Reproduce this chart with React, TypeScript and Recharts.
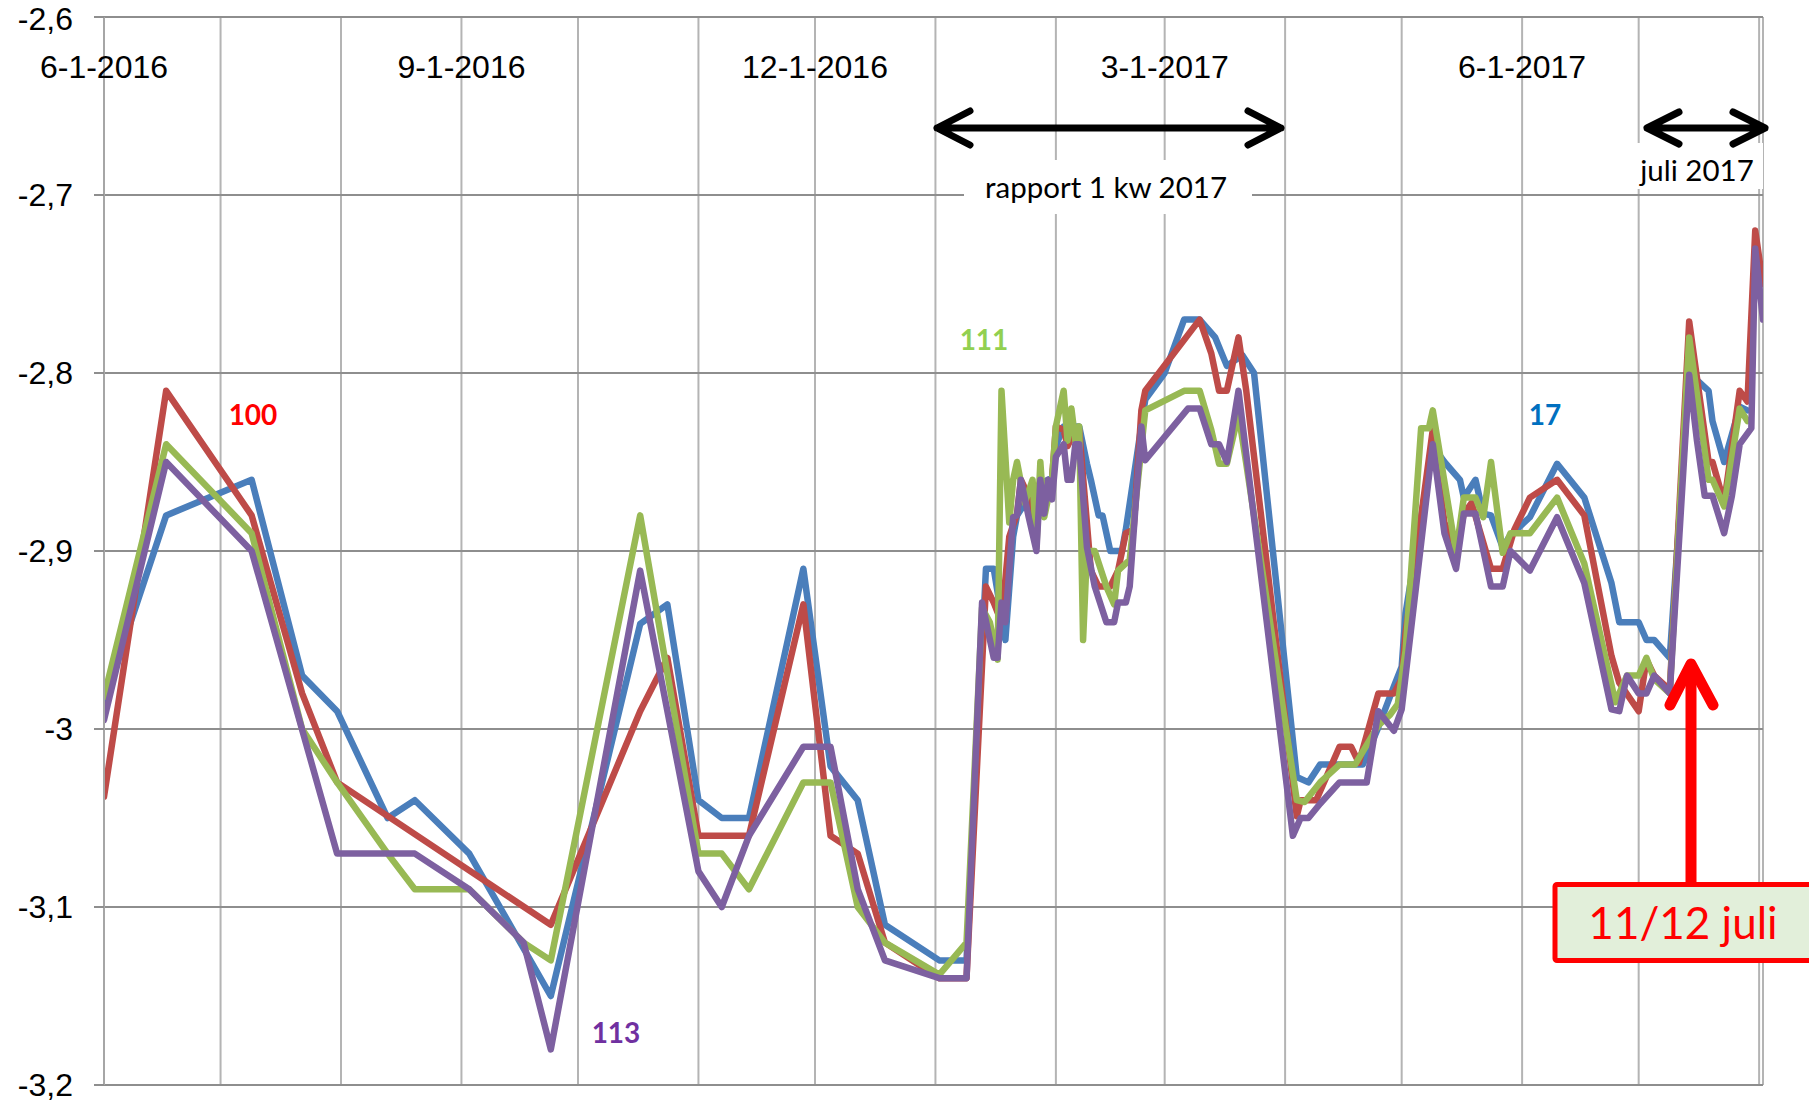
import React from "react";
import { LineChart, Line, XAxis, YAxis, CartesianGrid } from "recharts";

const W = 1809;
const H = 1106;
const PLOT_TOP = 17;

// x values: days counted from 1 June 2016
const monthTicks = [0, 30, 61, 92, 122, 153, 183, 214, 245, 273, 304, 334, 365, 395, 426];
const monthLabels = ["6-1-2016", "", "", "9-1-2016", "", "", "12-1-2016", "", "", "3-1-2017", "", "", "6-1-2017", "", ""];
const yTicks = [-3.2, -3.1, -3, -2.9, -2.8, -2.7, -2.6];

// series 17 (blue)
const blueDays = [0, 16, 38, 51, 60, 73, 80, 94, 115, 138, 145, 153, 159, 166, 180, 187, 194, 201, 215, 222, 227, 229, 232, 234, 235, 238, 241, 244, 245, 247, 251, 253, 254, 256, 257, 259, 262, 263, 268, 273, 278, 282, 286, 289, 293, 296, 307, 310, 313, 317, 324, 328, 332, 334, 335, 342, 345, 349, 350, 353, 355, 357, 360, 362, 367, 374, 381, 388, 390, 395, 397, 399, 403, 408, 413, 414, 417, 421, 423];
const blueValues = [-2.985, -2.88, -2.86, -2.97, -2.99, -3.05, -3.04, -3.07, -3.15, -2.941, -2.93, -3.04, -3.05, -3.05, -2.91, -3.021, -3.04, -3.11, -3.13, -3.13, -2.91, -2.91, -2.95, -2.892, -2.88, -2.87, -2.862, -2.859, -2.841, -2.83, -2.83, -2.851, -2.86, -2.88, -2.88, -2.9, -2.9, -2.888, -2.815, -2.8, -2.77, -2.77, -2.78, -2.796, -2.79, -2.8, -3.027, -3.03, -3.02, -3.02, -3.02, -2.999, -2.976, -2.965, -2.935, -2.841, -2.85, -2.86, -2.87, -2.86, -2.879, -2.88, -2.898, -2.891, -2.881, -2.851, -2.87, -2.918, -2.94, -2.94, -2.95, -2.95, -2.96, -2.8, -2.81, -2.827, -2.85, -2.819, -2.821];

// series 100 (red)
const redDays = [0, 16, 38, 51, 60, 115, 138, 145, 153, 159, 166, 180, 187, 194, 201, 215, 222, 227, 229, 231, 233, 235, 236, 238, 239, 241, 242, 244, 245, 247, 248, 250, 251, 254, 256, 259, 261, 263, 265, 267, 268, 282, 285, 287, 289, 292, 294, 307, 308, 312, 318, 321, 323, 328, 332, 334, 335, 342, 345, 348, 350, 352, 357, 360, 363, 367, 374, 381, 388, 390, 395, 397, 399, 403, 408, 413, 414, 417, 421, 423, 425, 427];
const redValues = [-3.038, -2.81, -2.88, -2.98, -3.03, -3.11, -2.99, -2.96, -3.06, -3.06, -3.06, -2.93, -3.06, -3.07, -3.12, -3.14, -3.14, -2.92, -2.929, -2.94, -2.892, -2.879, -2.86, -2.869, -2.888, -2.86, -2.877, -2.86, -2.83, -2.832, -2.841, -2.832, -2.832, -2.911, -2.92, -2.92, -2.911, -2.89, -2.888, -2.821, -2.81, -2.77, -2.789, -2.81, -2.81, -2.78, -2.81, -3.049, -3.04, -3.04, -3.01, -3.01, -3.019, -2.98, -2.98, -2.972, -2.946, -2.832, -2.884, -2.9, -2.879, -2.873, -2.91, -2.91, -2.888, -2.87, -2.86, -2.88, -2.959, -2.974, -2.99, -2.961, -2.97, -2.978, -2.771, -2.85, -2.85, -2.873, -2.81, -2.816, -2.72, -2.75];

// series 111 (green)
const greenDays = [0, 16, 38, 51, 60, 73, 80, 94, 108, 115, 138, 153, 159, 166, 180, 187, 194, 201, 215, 222, 226, 228, 230, 231, 233, 234, 235, 237, 239, 240, 241, 242, 244, 245, 247, 248, 249, 250, 251, 252, 253, 255, 258, 260, 261, 264, 268, 278, 282, 285, 287, 289, 292, 294, 307, 309, 313, 318, 322, 328, 331, 333, 335, 339, 341, 342, 348, 350, 353, 355, 357, 360, 362, 367, 374, 381, 389, 392, 395, 397, 399, 403, 408, 413, 414, 417, 421, 423];
const greenValues = [-2.982, -2.84, -2.89, -3.0, -3.03, -3.07, -3.09, -3.09, -3.12, -3.13, -2.88, -3.07, -3.07, -3.09, -3.03, -3.03, -3.1, -3.12, -3.138, -3.12, -2.932, -2.94, -2.961, -2.81, -2.884, -2.86, -2.85, -2.873, -2.86, -2.898, -2.85, -2.881, -2.86, -2.83, -2.81, -2.838, -2.82, -2.838, -2.83, -2.95, -2.9, -2.9, -2.92, -2.93, -2.911, -2.905, -2.821, -2.81, -2.81, -2.832, -2.851, -2.851, -2.823, -2.851, -3.04, -3.041, -3.03, -3.02, -3.02, -2.998, -2.992, -2.986, -2.956, -2.831, -2.831, -2.821, -2.901, -2.87, -2.87, -2.881, -2.85, -2.901, -2.89, -2.89, -2.87, -2.907, -2.985, -2.97, -2.97, -2.96, -2.972, -2.98, -2.78, -2.86, -2.86, -2.875, -2.82, -2.827];

// series 113 (purple)
const purpleDays = [0, 16, 38, 60, 80, 94, 108, 115, 138, 153, 159, 166, 180, 187, 194, 201, 215, 222, 226, 229, 230, 231, 232, 234, 235, 236, 238, 240, 241, 242, 243, 244, 245, 247, 248, 249, 250, 251, 253, 255, 258, 260, 261, 263, 264, 267, 268, 279, 282, 285, 287, 289, 292, 306, 308, 310, 313, 318, 325, 328, 332, 334, 342, 345, 348, 350, 353, 357, 360, 362, 367, 374, 381, 388, 390, 392, 395, 397, 399, 403, 408, 410, 412, 414, 417, 419, 421, 424, 425, 427];
const purpleValues = [-2.995, -2.85, -2.9, -3.07, -3.07, -3.09, -3.12, -3.18, -2.911, -3.08, -3.1, -3.06, -3.01, -3.01, -3.09, -3.13, -3.14, -3.14, -2.929, -2.96, -2.96, -2.929, -2.94, -2.881, -2.88, -2.86, -2.881, -2.9, -2.86, -2.879, -2.86, -2.871, -2.847, -2.84, -2.86, -2.86, -2.84, -2.84, -2.898, -2.92, -2.94, -2.94, -2.929, -2.929, -2.92, -2.83, -2.849, -2.82, -2.82, -2.84, -2.84, -2.85, -2.81, -3.06, -3.05, -3.05, -3.042, -3.03, -3.03, -2.99, -3.001, -2.989, -2.84, -2.89, -2.91, -2.879, -2.879, -2.92, -2.92, -2.9, -2.911, -2.881, -2.918, -2.989, -2.99, -2.97, -2.98, -2.98, -2.97, -2.98, -2.801, -2.838, -2.869, -2.869, -2.89, -2.869, -2.84, -2.831, -2.73, -2.77];

const series = [
  { name: "17", color: "#4A7EBB", days: blueDays, values: blueValues },
  { name: "100", color: "#BE4B48", days: redDays, values: redValues },
  { name: "111", color: "#98B954", days: greenDays, values: greenValues },
  { name: "113", color: "#7D60A0", days: purpleDays, values: purpleValues },
];

const AXIS_FONT = "'Liberation Sans', Arial, sans-serif";
const NOTE_FONT = "Lato, 'Noto Sans', sans-serif";

// month labels sit just under the top edge of the plot, one every quarter
function renderTopTick(props: any) {
  const { x, payload } = props;
  const i = monthTicks.indexOf(payload.value);
  const label = monthLabels[i];
  return (
    <text key={`t-${payload.value}`} x={x} y={PLOT_TOP + 61} textAnchor="middle" fontSize={32} fontFamily={AXIS_FONT} fill="#000">
      {label || ""}
    </text>
  );
}

const fmtY = (v: number) => String(v).replace(".", ",");

export default function App() {
  return (
    <div style={{ position: "absolute", left: 0, top: 0, width: W, height: H, background: "#fff" }}>
      <LineChart width={W} height={H} margin={{ top: PLOT_TOP - 1, right: 46, bottom: 21, left: 0 }}>
        <CartesianGrid horizontal={false} stroke="#B4B4B4" strokeWidth={2} />
        <CartesianGrid vertical={false} stroke="#8E8E8E" strokeWidth={2} />
        <XAxis
          type="number"
          dataKey="d"
          orientation="top"
          domain={[0, 427]}
          ticks={monthTicks}
          interval={0}
          allowDataOverflow
          height={1}
          axisLine={false}
          tickLine={false}
          tick={renderTopTick}
        />
        <YAxis
          type="number"
          domain={[-3.2, -2.6]}
          ticks={yTicks}
          allowDataOverflow
          width={104}
          tickFormatter={fmtY}
          tickSize={10}
          tickMargin={21}
          axisLine={{ stroke: "#A6A6A6", strokeWidth: 2 }}
          tickLine={{ stroke: "#8E8E8E", strokeWidth: 2 }}
          tick={{ fill: "#000", fontSize: 32, fontFamily: AXIS_FONT }}
        />
        {series.map((s) => (
          <Line
            key={s.name}
            name={s.name}
            data={s.days.map((d, i) => ({ d, v: s.values[i] }))}
            dataKey="v"
            type="linear"
            stroke={s.color}
            strokeWidth={6.5}
            strokeLinejoin="round"
            strokeLinecap="round"
            dot={false}
            activeDot={false}
            isAnimationActive={false}
          />
        ))}
      </LineChart>

      <svg width={W} height={H} style={{ position: "absolute", left: 0, top: 0, pointerEvents: "none" }}>
        {/* series labels */}
        <g fontFamily={NOTE_FONT} fontWeight={700} fontSize={28} textAnchor="middle">
          <text x={253} y={425} fill="#FF0000">100</text>
          <text x={984} y={350} fill="#92D050">111</text>
          <text x={1545} y={425} fill="#0070C0">17</text>
          <text x={616} y={1043} fill="#7030A0">113</text>
        </g>

        {/* rapport 1 kw 2017 */}
        <rect x={964} y={160} width={288} height={54} fill="#fff" />
        <text x={1106} y={198} fontFamily={NOTE_FONT} fontSize={29.5} textAnchor="middle" fill="#000">
          rapport 1 kw 2017
        </text>
        <path
          d="M937 128 H1281 M970 111 L937 128 L970 145 M1248 111 L1281 128 L1248 145"
          stroke="#000"
          strokeWidth={7}
          fill="none"
          strokeLinecap="round"
          strokeLinejoin="round"
        />

        {/* juli 2017 */}
        <rect x={1636} y={143} width={127} height={46} fill="#fff" />
        <text x={1697} y={181} fontFamily={NOTE_FONT} fontSize={29.5} textAnchor="middle" fill="#000">
          juli 2017
        </text>
        <path
          d="M1647 128 H1765 M1679 112 L1647 128 L1679 144 M1733 112 L1765 128 L1733 144"
          stroke="#000"
          strokeWidth={7}
          fill="none"
          strokeLinecap="round"
          strokeLinejoin="round"
        />

        {/* 11/12 juli marker */}
        <path d="M1691 668 V885" stroke="#FF0000" strokeWidth={11} fill="none" />
        <path
          d="M1670 705 L1691 664 L1713 705"
          stroke="#FF0000"
          strokeWidth={11}
          fill="none"
          strokeLinecap="round"
          strokeLinejoin="round"
        />
        <rect x={1555} y={884.5} width={300} height={76} rx={2} fill="#E2EFDA" stroke="#FF0000" strokeWidth={5} />
        <text x={1683} y={939} fontFamily={NOTE_FONT} fontSize={44} textAnchor="middle" fill="#FF0000">
          11/12 juli
        </text>
      </svg>
    </div>
  );
}
